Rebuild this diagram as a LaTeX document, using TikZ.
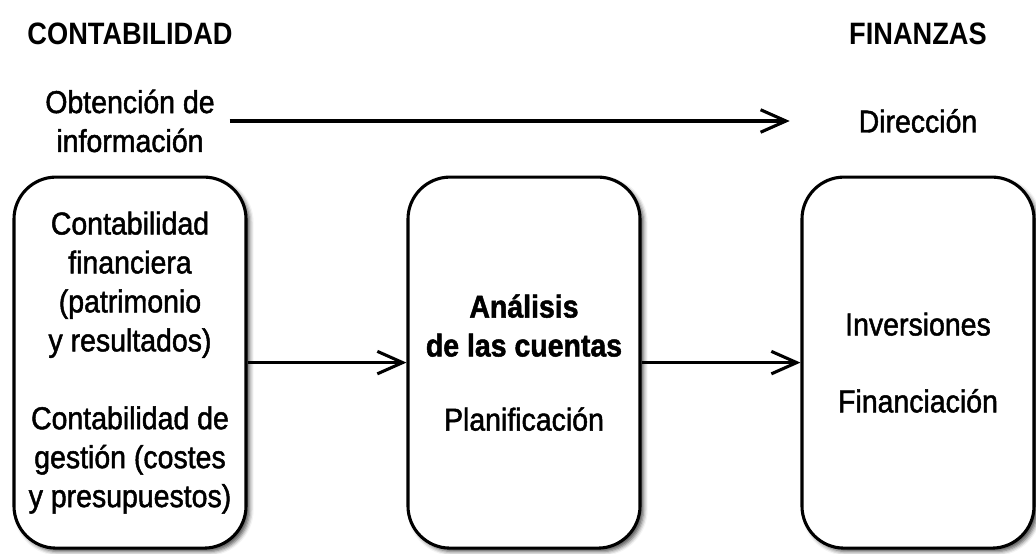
\documentclass[tikz,border=0pt]{standalone}
\usepackage{fontspec}
\setmainfont{Liberation Sans}
\newfontfamily\bodyfont[FakeStretch=0.9, FakeBold=1.5]{Liberation Sans}
\newfontfamily\titlefont[FakeStretch=0.88]{Liberation Sans}
\usetikzlibrary{matrix,arrows.meta,shadows.blur}

\begin{document}
\begin{tikzpicture}[ampersand replacement=\&,
    txt/.style={font=\bodyfont\fontsize{22.5}{27.7}\selectfont, align=center},
    ttl/.style={font=\titlefont\bfseries\fontsize{22}{26}\selectfont},
    box/.style={txt, draw, fill=white, line width=2.2pt, rounded corners=1.05cm,
      minimum width=5.8cm, minimum height=9.275cm,
      blur shadow={shadow xshift=2.5pt, shadow yshift=-2.5pt, shadow blur radius=3pt, shadow opacity=70}},
    arr/.style={line width=2.2pt, -{Straight Barb[length=18pt, width=16pt]}}]
    \useasboundingbox (0,0) rectangle (25.9,13.825);
    \matrix [column sep={9.85cm,between origins}, matrix anchor=cont.center] at (3.25,12.975)
    {
      \node[ttl](cont){CONTABILIDAD}; \& \& \node[ttl](fin){FINANZAS}; \\[2.175cm,between origins]
      \node[txt](obt){Obtención de\\información}; \& \& \node[txt](dir){Dirección}; \\[6.04cm,between origins]
      \node[box](a){Contabilidad\\financiera\\(patrimonio\\y resultados)\\[27.7pt]Contabilidad de\\gestión (costes\\y presupuestos)}; \&
      \node[box](b){\textbf{Análisis}\\\textbf{de las cuentas}\\[25pt]Planificación}; \&
      \node[box](c){Inversiones\\[27pt]Financiación}; \\
    };
    \draw [arr, shorten <=0.25cm, shorten >=1.6cm] (obt) -- (dir);
    \draw [arr] (a) -- (b);
    \draw [arr] (b) -- (c);
\end{tikzpicture}
\end{document}
